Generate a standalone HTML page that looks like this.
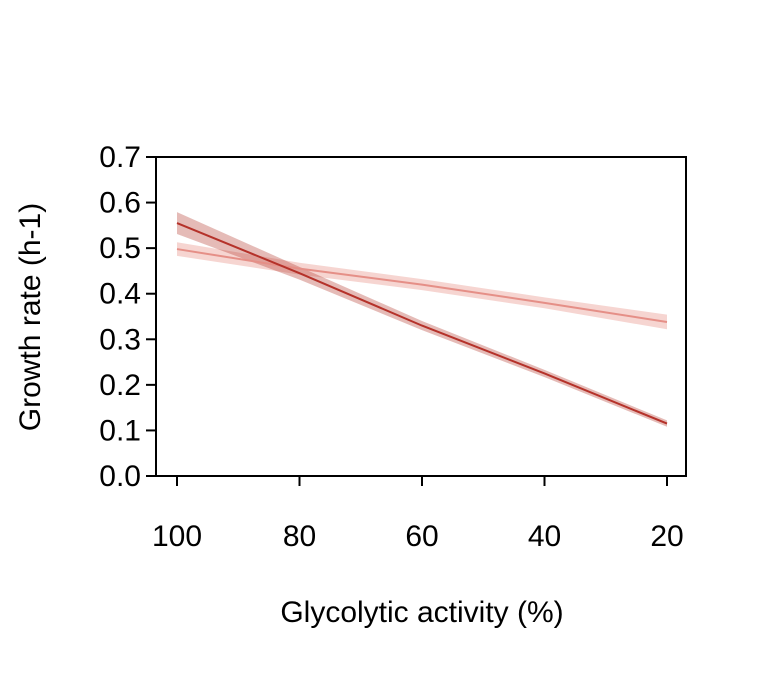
<!DOCTYPE html>
<html><head><meta charset="utf-8"><style>
body{margin:0;background:#fff}
svg text{font-family:"Liberation Sans",Arial,sans-serif;font-size:30px;fill:#000}
</style></head><body>
<svg id="chart" width="768" height="672" xmlns="http://www.w3.org/2000/svg">
<rect x="156" y="157" width="530" height="319" fill="none" stroke="#000" stroke-width="2"/>
<g id="series"></g>
<g id="yaxis"></g>
<g id="xaxis"></g>
<text x="422" y="622" text-anchor="middle" style="font-size:30px">Glycolytic activity (%)</text>
<text transform="translate(40,317) rotate(-90)" text-anchor="middle" style="font-size:30px">Growth rate (h-1)</text>
</svg>
<script>
const xs = [100, 80, 60, 40, 20];
const darkMean = [0.555, 0.445, 0.33, 0.225, 0.115];
const darkHalf = [0.024, 0.014, 0.01, 0.008, 0.007];
const lightMean = [0.498, 0.455, 0.42, 0.38, 0.338];
const lightHalf = [0.015, 0.013, 0.012, 0.012, 0.016];
const yTicks = [0, 0.1, 0.2, 0.3, 0.4, 0.5, 0.6, 0.7];
const xTicks = [100, 80, 60, 40, 20];

const NS = "http://www.w3.org/2000/svg";
const X = v => 177 + (100 - v) / 80 * 490;
const Y = v => 476 - v / 0.7 * 319;
function mk(tag, attrs, parent) {
  const e = document.createElementNS(NS, tag);
  for (const k in attrs) e.setAttribute(k, attrs[k]);
  parent.appendChild(e);
  return e;
}
const S = document.getElementById('series');
function band(mean, half, fill, name) {
  const up = xs.map((x, i) => X(x) + ',' + Y(mean[i] + half[i]));
  const dn = xs.map((x, i) => X(x) + ',' + Y(mean[i] - half[i])).reverse();
  const p = mk('polygon', {points: up.concat(dn).join(' '), fill: fill}, S);
  
  
}
function line(mean, color, name) {
  const p = mk('polyline', {points: xs.map((x, i) => X(x) + ',' + Y(mean[i])).join(' '), fill: 'none', stroke: color, 'stroke-width': 2}, S);
  
  
}
band(lightMean, lightHalf, 'rgba(232,150,140,0.4)', 'light-confidence-band');
band(darkMean, darkHalf, 'rgba(180,60,50,0.35)', 'dark-confidence-band');
line(lightMean, '#e58f87', 'light-trend-line');
line(darkMean, '#b5322a', 'dark-trend-line');

const YA = document.getElementById('yaxis');
yTicks.forEach(t => {
  const l = mk('line', {x1: 146, x2: 156, y1: Y(t), y2: Y(t), stroke: '#000', 'stroke-width': 2}, YA);
  
  
  const tx = mk('text', {x: 141, y: Y(t) + 10, 'text-anchor': 'end', style: 'font-size:30px'}, YA);
  tx.textContent = t.toFixed(1);
  
  
});
const XA = document.getElementById('xaxis');
xTicks.forEach(t => {
  const l = mk('line', {x1: X(t), x2: X(t), y1: 476, y2: 486, stroke: '#000', 'stroke-width': 2}, XA);
  
  
  const tx = mk('text', {x: X(t), y: 546, 'text-anchor': 'middle', style: 'font-size:30px'}, XA);
  tx.textContent = t;
  
  
});
</script>
</body></html>
